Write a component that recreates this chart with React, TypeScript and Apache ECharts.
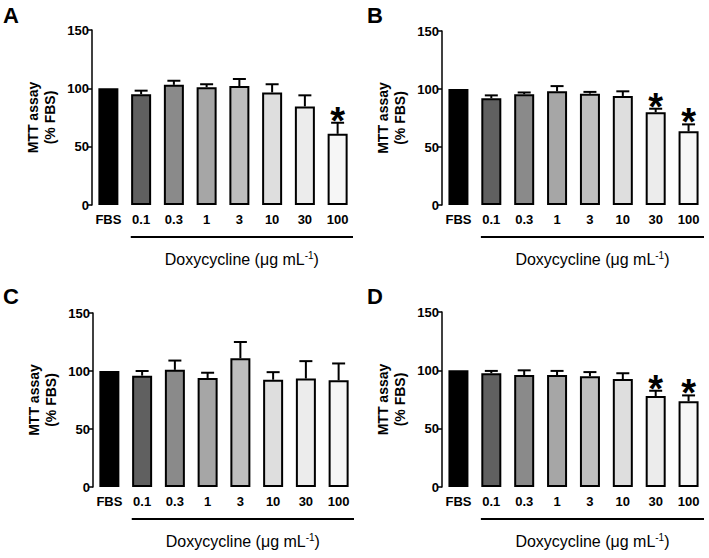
import React, { useEffect, useRef } from "react";
import * as echarts from "echarts";

const categories = ["FBS", "0.1", "0.3", "1", "3", "10", "30", "100"];
const barColors = ["#000000", "#606060", "#8a8a8a", "#a6a6a6", "#bebebe", "#dedede", "#ececec", "#f6f6f6"];

const meansA = [100, 95, 103, 101, 102, 96.5, 84.5, 61];
const errA = [0, 3, 3.5, 2.5, 6, 7, 9.5, 9.5];
const sigA = [0, 0, 0, 0, 0, 0, 0, 1];

const meansB = [100, 92, 95.5, 98, 96, 94, 80, 63.5];
const errB = [0, 2.5, 1.5, 4.5, 1.5, 4, 3, 6];
const sigB = [0, 0, 0, 0, 0, 0, 1, 1];

const meansC = [100, 96, 101, 94, 111, 92.5, 93.5, 92];
const errC = [0, 4, 8, 4.5, 14, 6.5, 15, 14.5];
const sigC = [0, 0, 0, 0, 0, 0, 0, 0];

const meansD = [100, 97.5, 96, 96, 95, 92.5, 78, 73.5];
const errD = [0, 2, 4, 3.5, 3.5, 5, 4.5, 5];
const sigD = [0, 0, 0, 0, 0, 0, 1, 1];

const yTicks = [0, 50, 100, 150];
const panelLetters = ["A", "B", "C", "D"];
const xTitle = "Doxycycline (";

const panels = [
  { means: meansA, err: errA, sig: sigA },
  { means: meansB, err: errB, sig: sigB },
  { means: meansC, err: errC, sig: sigC },
  { means: meansD, err: errD, sig: sigD },
];

const grids = [
  { left: 92, top: 30, width: 262, height: 175 },
  { left: 442, top: 31, width: 263, height: 174 },
  { left: 93, top: 313, width: 262, height: 174 },
  { left: 442, top: 312, width: 263, height: 175 },
];

const FONT = "Arial, 'Liberation Sans', Helvetica, sans-serif";

export default function App() {
  const ref = useRef<HTMLDivElement>(null);
  useEffect(() => {
    if (!ref.current) return;
    const chart = echarts.init(ref.current, undefined, { renderer: "svg" });

    const xAxes: any[] = [];
    const yAxes: any[] = [];
    const series: any[] = [];
    const graphics: any[] = [];

    panels.forEach((p, i) => {
      xAxes.push({
        type: "category",
        gridIndex: i,
        data: categories,
        axisLine: { show: false },
        axisTick: { show: false },
        axisLabel: { color: "#000", fontWeight: "bold", fontSize: 13, fontFamily: FONT, margin: 8, interval: 0 },
      });
      yAxes.push({
        type: "value",
        gridIndex: i,
        min: yTicks[0],
        max: yTicks[yTicks.length - 1],
        interval: 50,
        splitLine: { show: false },
        axisLine: { show: true, lineStyle: { color: "#000", width: 1.5 } },
        axisTick: { show: true, length: 4, lineStyle: { color: "#000", width: 1.5 } },
        axisLabel: { color: "#000", fontWeight: "bold", fontSize: 13, fontFamily: FONT, margin: 3 },
        name: "MTT assay\n(% FBS)",
        nameLocation: "middle",
        nameRotate: 90,
        nameGap: 34,
        nameTextStyle: { color: "#000", fontWeight: "bold", fontSize: 14, fontFamily: FONT, lineHeight: 17 },
      });
      series.push({
        type: "bar",
        xAxisIndex: i,
        yAxisIndex: i,
        barWidth: 20,
        data: p.means.map((v, k) => ({
          value: v,
          itemStyle: { color: barColors[k], borderColor: "#000", borderWidth: 2 },
        })),
      });
      series.push({
        type: "custom",
        xAxisIndex: i,
        yAxisIndex: i,
        z: 5,
        data: p.means.map((v, k) => [k, v, v + p.err[k], p.sig[k]]),
        renderItem: (params: any, api: any) => {
          const idx = api.value(0);
          const mean = api.value(1);
          const up = api.value(2);
          const sig = api.value(3);
          const children: any[] = [];
          const pm = api.coord([idx, mean]);
          const pu = api.coord([idx, up]);
          if (up > mean) {
            children.push({
              type: "line",
              shape: { x1: pm[0], y1: pm[1], x2: pu[0], y2: pu[1] },
              style: { stroke: "#000", lineWidth: 2 },
            });
            children.push({
              type: "line",
              shape: { x1: pu[0] - 6.5, y1: pu[1], x2: pu[0] + 6.5, y2: pu[1] },
              style: { stroke: "#000", lineWidth: 2 },
            });
          }
          if (sig) {
            children.push({
              type: "text",
              x: pu[0],
              y: pu[1] - 2,
              style: {
                text: "*",
                fill: "#000",
                fontSize: 38,
                fontWeight: "bold",
                fontFamily: FONT,
                align: "center",
                verticalAlign: "middle",
              },
            });
          }
          return { type: "group", children };
        },
      });

      const g = grids[i];
      graphics.push({
        type: "text",
        left: i % 2 === 0 ? 3 : 367,
        top: i < 2 ? 4 : 285,
        style: { text: panelLetters[i], fill: "#000", fontSize: 22, fontWeight: "bold", fontFamily: FONT },
      });
      const lineY = g.top + g.height + 32;
      const x1 = g.left + g.width / 8 + 6;
      const x2 = g.left + g.width - 1;
      graphics.push({
        type: "line",
        shape: { x1, y1: lineY, x2, y2: lineY },
        style: { stroke: "#000", lineWidth: 2 },
      });
      graphics.push({
        type: "text",
        x: (x1 + x2) / 2,
        y: lineY + 22,
        style: {
          text: "{n|" + xTitle + "\u03bcg mL}{s|-1}{n|)}",
          align: "center",
          verticalAlign: "middle",
          rich: {
            n: { fontSize: 16, fontFamily: FONT, fill: "#000", color: "#000" },
            s: { fontSize: 10, fontFamily: FONT, fill: "#000", color: "#000", verticalAlign: "top", padding: [0, 0, 8, 0] },
          },
        },
      });
    });

    chart.setOption({
      animation: false,
      backgroundColor: "#fff",
      grid: grids,
      xAxis: xAxes,
      yAxis: yAxes,
      series,
      graphic: graphics,
    });
    return () => chart.dispose();
  }, []);
  return (
    <div
      ref={ref}
      style={{ position: "absolute", left: 0, top: 0, width: 709, height: 558, background: "#fff" }}
    />
  );
}
